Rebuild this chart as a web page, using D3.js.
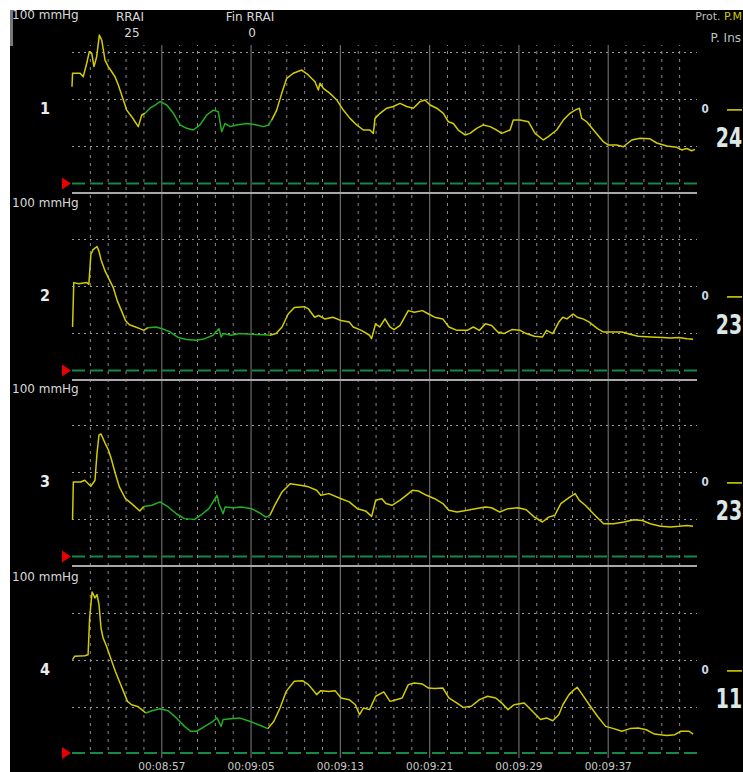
<!DOCTYPE html>
<html><head><meta charset="utf-8">
<script src="https://cdn.jsdelivr.net/npm/d3@7"></script>
<style>
html,body{margin:0;padding:0;background:#fff;overflow:hidden}
svg{display:block}
text{font-family:"DejaVu Sans",sans-serif}
</style>
</head><body>
<svg id="c" width="743" height="772"></svg>
<script>
// ---------- data ----------
const panelIds = ["1", "2", "3", "4"];
const currentValues = ["24", "23", "23", "11"];
const unitLabel = "100 mmHg";
const headerLabels = ["RRAI", "Fin RRAI"];
const headerValues = ["25", "0"];
const legendProt = "Prot.";
const legendPM = "P.M";
const legendIns = "P. Ins";
const zeroLabel = "0";
const timeTickSeconds = [8, 16, 24, 32, 40, 48];
const timeTickLabels = ["00:08:57", "00:09:05", "00:09:13", "00:09:21", "00:09:29", "00:09:37"];
const minorTickSeconds = [1.6, 3.2, 4.8, 6.4, 9.6, 11.2, 12.8, 14.4, 17.6, 19.2, 20.8, 22.4,
  25.6, 27.2, 28.8, 30.4, 33.6, 35.2, 36.8, 38.4, 41.6, 43.2, 44.8, 46.4, 49.6, 51.2, 52.8, 54.4];
const gridLevels = [25, 50, 75];
const refLevel = 5;      // green dashed reference (mmHg)
const labelLevel = 45;   // level of the "0" marker on the right
const greenSpans = [[6.5, 17.9], [6.6, 17.9], [6.4, 17.8], [6.6, 17.7]];

const trace1 = [[0,56.5],[0.05,63.7],[0.72,63.7],[1.01,61.9],[1.32,69],[1.55,75.2],[1.77,74.3],[1.97,67.2],[2.21,72.5],[2.45,84],[2.66,81.4],[2.96,70.7],[3.25,67.2],[3.56,64.5],[3.85,61.9],[4.15,57.4],[4.6,49.5],[4.9,44.1],[5.35,40.6],[5.65,37.9],[5.94,35.3],[6.25,41.5],[6.54,42.4],[6.99,45.1],[7.44,46.8],[7.89,48.6],[8.49,46.8],[9.08,42.4],[9.68,36.2],[10.28,34.4],[10.87,33.5],[11.47,36.2],[12.07,41.5],[12.66,44.1],[13.11,43.2],[13.41,32.6],[13.71,37],[14.16,35.3],[14.76,36.2],[15.65,37],[16.55,36.2],[17.14,35.3],[17.56,36],[17.89,38.8],[18.34,44.1],[18.79,53],[19.24,61],[19.83,63.7],[20.58,65.4],[21.17,62.8],[21.77,59.2],[22.07,54.8],[22.22,58.4],[22.52,55.7],[23.12,53],[23.72,49.5],[24.31,44.1],[24.91,39.7],[25.51,36.2],[26.1,33.5],[26.7,33.5],[27,31.7],[27.15,39.7],[27.6,42.4],[28.2,45.1],[28.79,46],[29.39,47.7],[29.99,46],[30.58,45.1],[31.18,48.6],[31.63,49.5],[32.08,46.8],[32.68,45.1],[33.27,42.4],[33.72,37.9],[34.17,37],[34.61,33.5],[35.22,30.9],[35.66,31.7],[36.26,34.4],[36.86,36.2],[37.46,35.3],[38.05,33.5],[38.5,31.7],[39.25,33.5],[39.54,38.8],[40.14,38.8],[40.89,37.9],[41.49,31.7],[42.23,28.2],[42.68,30],[43.43,33.5],[44.02,38.8],[44.62,42.4],[45.07,44.1],[45.46,45.1],[45.67,39.7],[46.12,37.9],[46.86,32.6],[47.61,27.3],[48.06,25.5],[48.81,25.5],[49.4,24.6],[50.15,28.2],[50.9,29.1],[51.79,28.8],[52.39,26.6],[53.29,25],[54.18,24.3],[54.63,22.9],[55.08,23.7],[55.53,22.5],[55.82,23.2]];

const trace2 = [[0.05,28.2],[0.16,51.8],[0.6,51.2],[1.33,51.8],[1.51,50.9],[1.69,66.6],[1.87,69.2],[2.24,71],[2.42,68.4],[2.6,64],[2.97,57.9],[3.33,53.5],[3.7,49.1],[4.06,42.1],[4.43,36.9],[4.79,31.6],[5.15,29.4],[5.7,28.2],[6.07,27.3],[6.43,26.4],[6.8,27.8],[7.52,28.2],[8.07,27.3],[8.8,25.5],[9.53,22.6],[10.26,21.5],[11.17,21.2],[11.9,22],[12.63,23.8],[13.17,27.3],[13.36,22.9],[13.54,24.7],[14.27,23.8],[15,24.7],[16.09,24.3],[17.19,24.1],[17.73,23.8],[18.28,24.7],[18.82,28.2],[19.37,35.1],[19.92,38.6],[20.82,39],[21.19,37.8],[21.74,33.4],[22.1,34.3],[22.65,32.5],[23.38,33.4],[24.11,31.6],[24.84,30.8],[25.2,28.2],[25.93,26.4],[26.66,23.8],[26.84,22],[27.2,29.9],[27.57,28.2],[28.04,32.5],[28.49,28.2],[28.85,26.8],[29.4,29],[30.13,36.9],[30.67,36],[31.4,36.9],[31.95,35.1],[32.49,33.4],[33.22,32.5],[33.77,28.2],[34.5,26.4],[35.41,26.4],[35.96,28.2],[36.5,26.4],[37.05,29.9],[37.6,29],[38.15,25.5],[38.69,24.7],[39.42,26.8],[40.15,26.4],[40.7,24.7],[41.43,23.3],[42.16,22.9],[42.52,26.4],[43.07,24.7],[43.62,30.8],[43.98,33.4],[44.35,32.5],[44.89,35.1],[45.26,33.4],[45.8,32.5],[46.35,30.8],[47.08,27.3],[47.63,25.5],[48.54,25.5],[49.27,25.5],[50,24.3],[50.73,23.3],[51.82,22.9],[52.92,22.6],[53.64,22.4],[54.37,22.6],[55.1,22],[55.65,21.7]];

const trace3 = [[0.05,24.6],[0.12,44.7],[0.78,44.7],[1.14,45.6],[1.69,42.4],[2.06,45.6],[2.24,59.9],[2.42,69.7],[2.6,70.2],[2.97,65.2],[3.26,61.7],[3.51,57.2],[3.88,49.2],[4.24,42.1],[4.79,35.8],[5.34,33.2],[6.07,29.3],[6.43,31.7],[7.16,32.3],[7.89,34.1],[8.62,31.4],[9.35,27.8],[10.08,25.2],[10.99,24.8],[11.53,27],[12.26,30.5],[12.99,37.6],[13.17,33],[13.54,27.8],[13.72,31.4],[14.45,31],[15.18,31.4],[16.09,30.5],[16.82,28.2],[17.37,26],[17.73,26.9],[18.09,31.4],[18.82,39.4],[19.55,43.8],[20.46,43],[21.19,42.1],[21.92,40.3],[22.29,37.6],[23.02,38.5],[24.11,35.8],[24.84,34.1],[25.57,30.5],[26.3,29.3],[26.85,26.4],[27.21,35],[27.76,35.8],[28.12,33.2],[28.67,32.3],[29.4,35],[29.95,37.6],[30.49,40.3],[31.04,39.9],[31.77,37.6],[32.5,35.8],[33.23,33.2],[33.77,29.6],[34.5,28.7],[35.41,29.6],[36.14,30.5],[37.05,31.4],[37.6,31],[38.33,28.7],[39.06,30.5],[39.97,31],[40.7,29.9],[41.43,26],[42.16,23.4],[42.71,26],[43.26,27],[43.8,33.2],[44.53,36.4],[45.08,38.5],[45.44,35],[45.99,32.3],[46.72,27.8],[47.63,22.5],[48.54,22.5],[49.45,23.4],[50.36,24.6],[51.09,24.2],[51.82,22.5],[52.73,21.1],[53.64,20.7],[54.37,21.1],[55.1,21.6],[55.65,21.1]];

const trace4 = [[0.05,50.2],[0.23,51.95],[1.14,52.3],[1.44,52.8],[1.58,72.3],[1.8,86.2],[2.06,83],[2.24,84.8],[2.42,79.4],[2.6,67],[2.79,61.7],[3.15,56.4],[3.51,50.2],[3.88,44],[4.24,38.7],[4.61,33.3],[4.97,28],[5.34,26.2],[5.88,25.3],[6.25,23.6],[6.61,21.8],[7.16,23],[7.89,24.1],[8.62,23],[9.35,19.2],[10.08,14.7],[10.62,12.1],[11.17,12.1],[11.9,14.7],[12.63,17.4],[12.99,19.2],[13.36,14.7],[13.54,18.3],[14.27,18.8],[15,19.2],[15.91,17.4],[16.82,15.3],[17.55,13.5],[18.09,17.4],[18.64,24.5],[19.19,33.3],[19.92,38.7],[20.65,39],[21.19,36.9],[21.92,31.6],[22.29,33.7],[23.02,33.3],[23.57,33.7],[24.11,29.8],[24.84,28.9],[25.39,26.2],[25.76,20.9],[26.12,24.5],[26.66,23.6],[27.21,30.7],[27.94,33],[28.49,28],[29.04,28.9],[29.58,29.8],[30.13,36.9],[30.67,37.8],[31.4,37.2],[31.95,35.1],[32.5,34.8],[33.23,35.1],[33.77,29.8],[34.5,27.1],[35.05,24.8],[35.78,25.4],[36.51,28.9],[37.24,30.7],[37.97,29.8],[38.51,27.1],[39.06,23.6],[39.61,26.2],[40.52,27.1],[41.25,22.7],[41.98,18.3],[42.52,19.2],[43.07,17.7],[43.62,20.9],[43.98,26.2],[44.53,31.6],[44.9,33.7],[45.26,35.5],[45.62,32.5],[46.35,26.2],[47.08,20.1],[47.81,14.7],[48.54,13.5],[49.27,12.1],[50,13.5],[50.73,13.8],[51.46,12.9],[52.19,10.6],[53.28,9.9],[54.01,10.3],[54.55,12.1],[55.28,12.1],[55.65,10.6]];

const traces = [trace1, trace2, trace3, trace4];

// ---------- layout ----------
const W = 743, H = 772;
const plotL = 72, plotR = 697;
const panelTops = [10, 197, 383, 571];
const gridTop = 45, gridBottom = 758;
const YELLOW = "#d2cc00", GREEN = "#22b022", DASHGREEN = "#138a48";

const svg = d3.select("#c");
svg.append("rect").attr("x", 0).attr("y", 0).attr("width", W).attr("height", H).attr("fill", "#fff");
svg.append("rect").attr("x", 10).attr("y", 10).attr("width", W - 10).attr("height", H - 10).attr("fill", "#000");
svg.append("rect").attr("x", 10).attr("y", 10).attr("width", 3).attr("height", 36).attr("fill", "#777");

// narrow text helper (horizontal compression imitates the monitor's condensed font)
function narrowText(g, cx, y, str, size, fill, sx, anchor, weight) {
  return g.append("text")
    .attr("transform", `translate(${cx},${y}) scale(${sx},1)`)
    .attr("text-anchor", anchor || "middle")
    .attr("font-family", "'Liberation Sans', Arial, sans-serif")
    .attr("font-size", size).attr("font-weight", weight || "normal")
    .attr("fill", fill).text(str);
}

const x = d3.scaleLinear().domain([0, 56]).range([plotL, plotR]);

// minor vertical dotted grid
const minorAxis = d3.axisBottom(x).tickValues(minorTickSeconds).tickSizeInner(-(gridBottom - gridTop - 8)).tickSizeOuter(0).tickFormat("");
const gMinor = svg.append("g").attr("transform", `translate(0,${gridBottom - 8})`).call(minorAxis);
gMinor.select(".domain").remove();
gMinor.selectAll(".tick line").attr("stroke", "#8a8a8a").attr("stroke-width", 1).attr("stroke-dasharray", "3,5");

// major vertical solid grid + time labels
const majorAxis = d3.axisBottom(x).tickValues(timeTickSeconds).tickSizeInner(-(gridBottom - gridTop)).tickSizeOuter(0)
  .tickPadding(5).tickFormat((d, i) => timeTickLabels[i]);
const gMajor = svg.append("g").attr("transform", `translate(0,${gridBottom})`).call(majorAxis);
gMajor.select(".domain").remove();
gMajor.selectAll(".tick line").attr("stroke", "#6a6a6a").attr("stroke-width", 1.2);
gMajor.selectAll(".tick text").attr("fill", "#c8c8c8").attr("font-size", 10.5);

// header
const hdrX = [130, 250];
headerLabels.forEach((t, i) => {
  svg.append("text").attr("x", hdrX[i]).attr("y", 21).attr("text-anchor", "middle").attr("fill", "#d8d8d8").attr("font-size", 12).text(t);
  svg.append("text").attr("x", hdrX[i] + 2).attr("y", 37).attr("text-anchor", "middle").attr("fill", "#d8d8d8").attr("font-size", 12).text(headerValues[i]);
});
const leg = svg.append("text").attr("x", 742).attr("y", 20).attr("text-anchor", "end").attr("font-size", 11);
leg.append("tspan").attr("fill", "#bbbbbb").text(legendProt + " ");
leg.append("tspan").attr("fill", YELLOW).text(legendPM);
svg.append("text").attr("x", 741).attr("y", 42).attr("text-anchor", "end").attr("font-size", 12).attr("fill", "#b8c4c4").text(legendIns);

const lineGen = (y) => d3.line().x(d => x(d[0])).y(d => y(d[1]));

traces.forEach((tr, p) => {
  const top = panelTops[p];
  const y = d3.scaleLinear().domain([0, 100]).range([top + 183, top - 5]);
  const g = svg.append("g");

  // horizontal dotted grid
  const hAxis = d3.axisLeft(y).tickValues(gridLevels).tickSizeInner(-(plotR - plotL)).tickSizeOuter(0).tickFormat("");
  const gh = g.append("g").attr("transform", `translate(${plotL},0)`).call(hAxis);
  gh.select(".domain").remove();
  gh.selectAll(".tick line").attr("stroke", "#9a9a9a").attr("stroke-width", 1).attr("stroke-dasharray", "2,4");

  // unit label
  g.append("text").attr("x", 12).attr("y", top + (p === 0 ? 9 : 10)).attr("fill", "#d8d8d8").attr("font-size", 12).text(unitLabel);
  // panel number
  narrowText(g, 45, y(labelLevel) + 6, panelIds[p], 16, "#ececec", 0.9, "middle", "bold");

  // reference line + separator
  const refY = p === 3 ? y(0) - 1 : y(refLevel);
  g.append("line").attr("x1", plotL).attr("x2", plotR).attr("y1", refY).attr("y2", refY)
    .attr("stroke", DASHGREEN).attr("stroke-width", 2).attr("stroke-dasharray", "13,5");
  g.append("path").attr("d", `M62,${refY - 6}L71,${refY}L62,${refY + 6}Z`).attr("fill", "#e80000");
  if (p < 3) {
    g.append("line").attr("x1", plotL).attr("x2", plotR).attr("y1", y(0)).attr("y2", y(0))
      .attr("stroke", "#a8a8a8").attr("stroke-width", 2);
  }

  // right side labels
  narrowText(g, 705, y(labelLevel) + 4.5, zeroLabel, 13, "#c8dcea", 0.8, "middle", "bold");
  g.append("line").attr("x1", 727).attr("x2", 742).attr("y1", y(labelLevel) + 1.5).attr("y2", y(labelLevel) + 1.5)
    .attr("stroke", YELLOW).attr("stroke-width", 1.6);
  narrowText(g, 729, y(labelLevel) + 38.5, currentValues[p], 27, "#dce8e6", 0.7, "middle", "bold");

  // trace split yellow / green / yellow
  const [gs, ge] = greenSpans[p];
  let i0 = tr.findIndex(d => d[0] >= gs);
  let i1 = tr.length - 1;
  for (let k = tr.length - 1; k >= 0; k--) { if (tr[k][0] <= ge) { i1 = k; break; } }
  const segs = [
    [tr.slice(0, i0 + 1), YELLOW],
    [tr.slice(i0, i1 + 1), GREEN],
    [tr.slice(i1), YELLOW]
  ];
  segs.forEach(([pts, col]) => {
    g.append("path").datum(pts).attr("d", lineGen(y)).attr("fill", "none").attr("stroke", col)
      .attr("stroke-width", 1.5).attr("stroke-linejoin", "round");
  });
});
</script>
</body></html>
